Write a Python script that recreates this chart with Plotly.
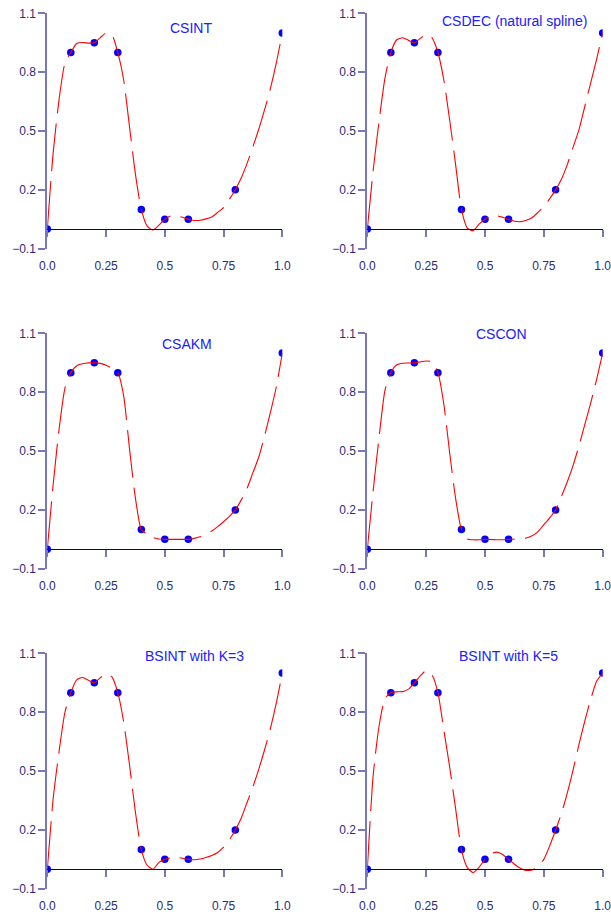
import plotly.graph_objects as go

# ---- data -------------------------------------------------------------
x_data = [0.0, 0.1, 0.2, 0.3, 0.4, 0.5, 0.6, 0.8, 1.0]
y_data = [0.0, 0.9, 0.95, 0.9, 0.1, 0.05, 0.05, 0.2, 1.0]

# curve samples
x_curve = [0.0, 0.025, 0.05, 0.075, 0.1, 0.125, 0.15, 0.175, 0.2, 0.225,
           0.25, 0.275, 0.3, 0.325, 0.35, 0.375, 0.4, 0.425, 0.45, 0.475,
           0.5, 0.525, 0.55, 0.575, 0.6, 0.625, 0.65, 0.675, 0.7, 0.725,
           0.75, 0.775, 0.8, 0.825, 0.85, 0.875, 0.9, 0.925, 0.95, 0.975, 1.0]

csint = [0, 0.39, 0.66, 0.846, 0.9, 0.946, 0.951, 0.948, 0.95, 0.975,
         1.0, 0.99, 0.9, 0.76, 0.52, 0.28, 0.1, 0.015, -0.005, 0.02,
         0.05, 0.067, 0.068, 0.06, 0.05, 0.044, 0.045, 0.052, 0.062, 0.085,
         0.11, 0.152, 0.2, 0.26, 0.335, 0.42, 0.51, 0.61, 0.72, 0.85, 1.0]

csdec = [0, 0.30, 0.55, 0.77, 0.9, 0.965, 0.975, 0.962, 0.95, 0.972,
         0.993, 0.975, 0.9, 0.76, 0.555, 0.33, 0.1, 0.005, -0.008, 0.025,
         0.05, 0.066, 0.068, 0.06, 0.05, 0.04, 0.038, 0.045, 0.058, 0.085,
         0.115, 0.155, 0.2, 0.255, 0.33, 0.42, 0.51, 0.63, 0.75, 0.87, 1.0]

csakm = [0, 0.33, 0.61, 0.82, 0.9, 0.935, 0.945, 0.95, 0.95, 0.947,
         0.938, 0.922, 0.9, 0.78, 0.51, 0.26, 0.1, 0.075, 0.06, 0.052,
         0.05, 0.05, 0.05, 0.05, 0.05, 0.055, 0.063, 0.075, 0.093, 0.115,
         0.14, 0.167, 0.2, 0.25, 0.31, 0.39, 0.47, 0.58, 0.7, 0.83, 1.0]

cscon = [0, 0.30, 0.57, 0.81, 0.9, 0.94, 0.948, 0.949, 0.95, 0.955,
         0.959, 0.955, 0.9, 0.74, 0.49, 0.26, 0.1, 0.052, 0.048, 0.048,
         0.05, 0.049, 0.048, 0.048, 0.05, 0.051, 0.053, 0.057, 0.068, 0.09,
         0.125, 0.16, 0.2, 0.27, 0.345, 0.43, 0.53, 0.64, 0.75, 0.87, 1.0]

bsint_k3 = [0, 0.36, 0.60, 0.80, 0.9, 0.965, 0.977, 0.963, 0.95, 0.975,
            0.998, 0.98, 0.9, 0.75, 0.53, 0.29, 0.1, 0.02, 0.0, 0.035,
            0.05, 0.058, 0.06, 0.056, 0.05, 0.048, 0.052, 0.06, 0.07, 0.085,
            0.112, 0.15, 0.2, 0.26, 0.34, 0.42, 0.51, 0.61, 0.72, 0.85, 1.0]

bsint_k5 = [0, 0.48, 0.73, 0.87, 0.9, 0.904, 0.905, 0.918, 0.95, 0.985,
            1.012, 0.99, 0.9, 0.71, 0.52, 0.31, 0.1, 0.008, -0.018, 0.01,
            0.05, 0.078, 0.087, 0.075, 0.05, 0.025, 0.005, -0.006, -0.004, 0.012,
            0.05, 0.12, 0.2, 0.285, 0.39, 0.51, 0.64, 0.76, 0.87, 0.96, 1.0]

curves = [csint, csdec, csakm, cscon, bsint_k3, bsint_k5]
titles = ["CSINT", "CSDEC (natural spline)", "CSAKM", "CSCON",
          "BSINT with K=3", "BSINT with K=5"]
title_x = [0.61, 0.628, 0.593, 0.568, 0.626, 0.60]
title_y = [1.026, 1.063, 1.046, 1.095, 1.085, 1.085]

x_ticks = [0.0, 0.25, 0.5, 0.75, 1.0]
x_ticktext = ["0.0", "0.25", "0.5", "0.75", "1.0"]
y_ticks = [-0.1, 0.2, 0.5, 0.8, 1.1]
y_ticktext = ["\u22120.1", "0.2", "0.5", "0.8", "1.1"]

# ---- layout -------------------------------------------------------------
W, H = 611, 912
x_domains = [[47.3 / W, 282.3 / W], [367.3 / W, 602.7 / W]]
row_tops = [13.3, 333.4, 653.4]
row_h = 235.4
y_range = [-0.1, 1.1]

FONT = "Liberation Sans, Arial, Helvetica, sans-serif"
AXIS_COL = "#7777bb"
XLINE_COL = "#000080"
TICKFONT_COL = "#2b2b7a"
TITLE_COL = "#2020ff"

fig = go.Figure()
layout = dict(
    template="none",
    width=W, height=H,
    margin=dict(l=0, r=0, t=0, b=0, pad=0, autoexpand=False),
    paper_bgcolor="white", plot_bgcolor="white",
    showlegend=False,
    font=dict(family=FONT),
)
annotations = []

for i, curve in enumerate(curves):
    r, c = divmod(i, 2)
    n = i + 1
    xs = "x" if n == 1 else f"x{n}"
    ys = "y" if n == 1 else f"y{n}"
    xk = "xaxis" if n == 1 else f"xaxis{n}"
    yk = "yaxis" if n == 1 else f"yaxis{n}"

    top = row_tops[r]
    y_dom = [1 - (top + row_h) / H, 1 - top / H]
    zero_pos = y_dom[0] + (0 - y_range[0]) / (y_range[1] - y_range[0]) * (y_dom[1] - y_dom[0])

    fig.add_trace(go.Scatter(
        x=x_data, y=y_data, mode="markers", xaxis=xs, yaxis=ys,
        marker=dict(color="#0000ff", size=7.5, line=dict(width=0)),
        hoverinfo="skip",
    ))
    fig.add_trace(go.Scatter(
        x=x_curve, y=curve, mode="lines", xaxis=xs, yaxis=ys,
        line=dict(color="#ff0000", width=1.1, dash="48px,10px",
                  shape="spline", smoothing=0.6),
        hoverinfo="skip",
    ))

    layout[xk] = dict(
        domain=x_domains[c], range=[0, 1], anchor="free", position=zero_pos,
        automargin=False,
        showline=True, linecolor=XLINE_COL, linewidth=1.3,
        ticks="outside", ticklen=7, tickwidth=1.5, tickcolor=AXIS_COL,
        tickvals=x_ticks, ticktext=x_ticktext,
        tickfont=dict(size=12, color=TICKFONT_COL, family=FONT),
        ticklabelstandoff=18, ticklabeloverflow="allow",
        showgrid=False, zeroline=False, fixedrange=True,
    )
    layout[yk] = dict(
        domain=y_dom, range=y_range, anchor=xs,
        automargin=False,
        showline=True, linecolor=AXIS_COL, linewidth=2,
        ticks="outside", ticklen=7, tickwidth=1.5, tickcolor=AXIS_COL,
        tickvals=y_ticks, ticktext=y_ticktext,
        tickfont=dict(size=12, color=TICKFONT_COL, family=FONT),
        ticklabeloverflow="allow",
        showgrid=False, zeroline=False, fixedrange=True,
    )
    annotations.append(dict(
        text=titles[i], x=title_x[i], y=title_y[i], xref=xs, yref=ys,
        xanchor="center", yanchor="middle", showarrow=False,
        font=dict(size=14, color=TITLE_COL, family=FONT),
    ))

layout["annotations"] = annotations
fig.update_layout(**layout)
fig.write_html("out.html")
